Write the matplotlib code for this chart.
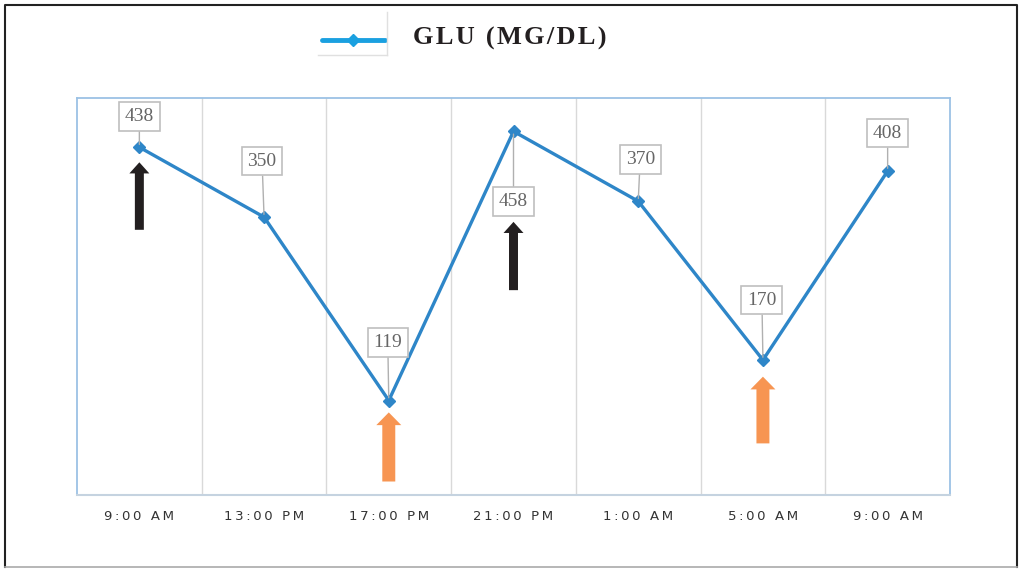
import matplotlib
matplotlib.use("Agg")
import matplotlib.pyplot as plt
from matplotlib.lines import Line2D

times = ["9:00 AM", "13:00 PM", "17:00 PM", "21:00 PM", "1:00 AM", "5:00 AM", "9:00 AM"]
glu = [438, 350, 119, 458, 370, 170, 408]
label_dy = [31, 56, 58, -70, 42, 60, 38]  # label offset above point, px
label_dx = [0, -2, -1, 0, 2, -1, 0]

# marker arrows: category index, base value, tip value, colour
arrow_x = [0, 2, 3, 5]
arrow_base = [334, 17, 258, 65]
arrow_tip = [419, 104, 344, 149]
arrow_col = ["#231f20", "#f79552", "#231f20", "#f79552"]

LINE = "#2e86c8"

fig = plt.figure(figsize=(10.19, 5.69), dpi=100)
ax = fig.add_axes([77 / 1019, 74 / 569, 873 / 1019, 397 / 569])

n = len(times)
xs = list(range(n))
ax.plot(xs, glu, color=LINE, lw=2.4, marker="D", ms=6.5, zorder=3)

for i, v in enumerate(glu):
  ax.annotate(str(v), xy=(i, v), xytext=(label_dx[i], label_dy[i]),
              textcoords="offset pixels", ha="center", va="center",
              fontsize=14, family="Liberation Serif", color="#666666",
              bbox=dict(boxstyle="square,pad=0.3", fc="white", ec="#bfbfbf", lw=1.2),
              arrowprops=dict(arrowstyle="-", color="#b0b0b0", lw=1,
                              shrinkA=0, shrinkB=2),
              zorder=4)

for x, b, t, c in zip(arrow_x, arrow_base, arrow_tip, arrow_col):
  black = c == "#231f20"
  w = 0.072 if black else 0.104
  hw = 0.16 if black else 0.2
  hl = 14 if black else 16
  ax.arrow(x, b, 0, t - b, width=w, head_width=hw, head_length=hl,
           length_includes_head=True, fc=c, ec=c, lw=0, zorder=2)

ax.set_xlim(-0.5, n - 0.5)
ax.set_ylim(0, 500)
for g in range(n - 1):
  ax.axvline(g + 0.5, color="#d9d9d9", lw=1, zorder=1)

ax.set_xticks(xs)
ax.set_xticklabels(["\u2009".join(t) for t in times], fontsize=9.5,
                   family="DejaVu Sans", color="#333333")
ax.tick_params(axis="x", length=0, pad=11)
ax.set_yticks([])
for s in ["left", "right", "top"]:
  ax.spines[s].set_color("#9cc2e5")
  ax.spines[s].set_linewidth(1.3)
ax.spines["bottom"].set_color("#c5d3e0")
ax.spines["bottom"].set_linewidth(1.5)

# legend
W, H = 1019, 569
fig.add_artist(Line2D([322 / W, 385 / W], [1 - 40 / H, 1 - 40 / H], color="#1aa0e0",
                      lw=3.5, solid_capstyle="round"))
fig.add_artist(Line2D([353 / W], [1 - 40 / H], color="#1aa0e0", marker="D", ms=6))
fig.add_artist(Line2D([387 / W, 387 / W], [1 - 12 / H, 1 - 55 / H], color="#e0e0e0", lw=1))
fig.add_artist(Line2D([318 / W, 387 / W], [1 - 55 / H, 1 - 55 / H], color="#e0e0e0", lw=1))
fig.text(413 / W, 1 - 38 / H, "\u200a".join("GLU (MG/DL)"),
         fontsize=19, family="Liberation Serif", weight="bold", color="#231f20",
         va="center", ha="left")

# outer frame
fig.add_artist(Line2D([5 / W, 5 / W, 1017 / W, 1017 / W], [1 - 567 / H, 1 - 5 / H, 1 - 5 / H, 1 - 567 / H],
                      color="#222222", lw=1.5))
fig.add_artist(Line2D([5 / W, 1017 / W], [1 - 567 / H, 1 - 567 / H], color="#aaaaaa", lw=1.2))

fig.savefig("out.png", dpi=100, facecolor="white")
